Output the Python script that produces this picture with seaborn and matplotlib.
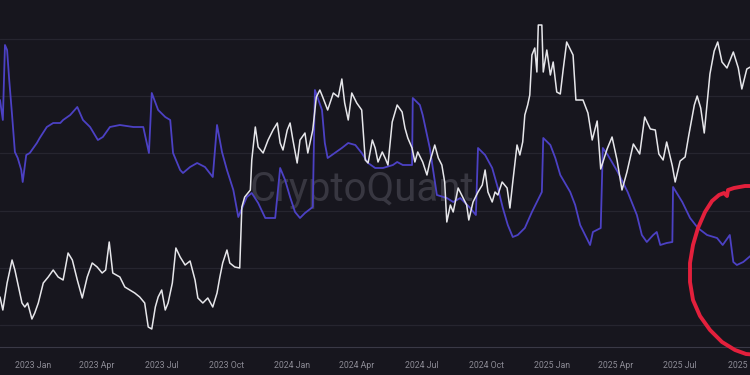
import numpy as np
import pandas as pd
import matplotlib
matplotlib.use("Agg")
import matplotlib.pyplot as plt
import matplotlib.dates as mdates
from matplotlib.lines import Line2D
import seaborn as sns

# ---------------- data ----------------
start_date = "2022-11-15"

white_days = [0, 4, 10, 17, 21, 25, 31, 35, 39, 45, 49, 54, 61, 68, 75, 82, 89, 96, 102, 109,
              116, 123, 130, 137, 144, 149, 154, 159, 169, 176, 183, 190, 197, 204, 209, 214,
              219, 223, 228, 233, 237, 243, 248, 254, 261, 268, 275, 279, 286, 293, 300, 306,
              310, 314, 320, 324, 331, 338, 341, 345, 353, 355, 360, 364, 371, 378, 385, 391,
              395, 399, 405, 409, 413, 419, 423, 430, 434, 441, 446, 451, 455, 462, 470, 477,
              482, 486, 491, 496, 503, 510, 515, 519, 525, 529, 533, 539, 543, 547, 553, 560,
              567, 571, 575, 581, 585, 589, 596, 602, 606, 613, 618, 623, 627, 630, 635, 639,
              646, 653, 658, 661, 667, 674, 680, 684, 688, 694, 698, 702, 708, 715, 719, 723,
              729, 733, 737, 740, 744, 747, 750, 754, 757, 759, 764, 766, 771, 776, 780, 785,
              790, 794, 799, 808, 812, 822, 829, 835, 842, 847, 856, 863, 870, 877, 884, 893,
              902, 909, 917, 924, 929, 935, 940, 948, 952, 959, 966, 971, 979, 983, 988, 993,
              997, 1001, 1007, 1012, 1018, 1025, 1034, 1041, 1046, 1053, 1058]
white_vals = [28, 15, 42, 65, 55, 42, 22, 18, 22, 6, 12, 22, 42, 48, 55, 48, 45, 72, 65, 45,
              27, 48, 62, 58, 52, 55, 83, 52, 48, 38, 35, 32, 28, 22, -2, -4,
              18, 28, 35, 15, 22, 42, 77, 68, 60, 64, 45, 27, 22, 27, 18, 32,
              48, 62, 75, 62, 58, 57, 118, 128, 135, 165, 198, 178, 172, 185, 195, 202,
              182, 175, 195, 202, 185, 162, 185, 192, 172, 195, 228, 235, 228, 215, 232, 228,
              246, 222, 205, 232, 222, 215, 165, 162, 185, 177, 163, 173, 167, 160, 203, 220,
              213, 197, 187, 177, 163, 173, 163, 150, 163, 180, 167, 160, 143, 103, 120, 113,
              137, 127, 120, 105, 123, 133, 140, 155, 133, 123, 133, 130, 143, 137, 117, 143,
              180, 170, 183, 210, 220, 230, 270, 277, 253, 300, 300, 253, 275, 250, 263, 233,
              231, 255, 283, 270, 225, 225, 212, 185, 204, 156, 176, 188, 165, 135, 153, 181,
              171, 208, 196, 195, 171, 165, 183, 159, 143, 164, 168, 189, 220, 229, 217, 192,
              221, 251, 274, 283, 263, 257, 273, 257, 236, 256, 258]

purple_days = [0, 4, 7, 10, 13, 17, 21, 25, 30, 32, 37, 42, 52, 56, 66, 75, 85, 89, 99, 109,
               117, 127, 138, 145, 155, 169, 188, 202, 210, 214, 223, 233, 240, 244, 254, 258,
               268, 278, 289, 300, 306, 313, 320, 329, 336, 348, 355, 364, 374, 388, 395, 402,
               409, 416, 423, 430, 441, 444, 454, 458, 462, 472, 482, 491, 501, 510, 519, 529,
               540, 554, 560, 568, 581, 582, 592, 596, 606, 616, 630, 639, 649, 663, 671, 674,
               684, 694, 702, 709, 716, 723, 730, 740, 750, 757, 764, 766, 776, 783, 790, 804,
               811, 818, 825, 832, 836, 847, 850, 857, 871, 885, 898, 905, 912, 921, 926, 931,
               940, 948, 949, 962, 973, 984, 997, 1011, 1019, 1029, 1034, 1039, 1048, 1058]
purple_vals = [225, 205, 280, 275, 245, 210, 173, 167, 155, 143, 170, 172, 182, 187, 198, 202,
               202, 205, 210, 218, 205, 198, 185, 188, 198, 200, 198, 198, 172, 232, 215, 208,
               205, 172, 155, 152, 158, 162, 158, 148, 200, 173, 155, 135, 108, 128, 132, 122,
               107, 107, 157, 145, 128, 113, 107, 112, 118, 235, 215, 182, 167, 172, 177, 182,
               180, 172, 162, 157, 157, 160, 163, 160, 160, 227, 220, 210, 177, 130, 127, 123,
               127, 117, 110, 177, 170, 157, 137, 117, 100, 88, 90, 97, 113, 123, 133, 187,
               180, 167, 150, 133, 120, 100, 90, 80, 93, 97, 177, 170, 153, 133, 110, 90,
               83, 90, 93, 80, 82, 83, 138, 123, 107, 97, 90, 87, 80, 90, 63, 60, 63, 69]

tick_months = [1, 4, 7, 10]
watermark = "CryptoQuant"

# annotation (hand-drawn red circle), in figure pixels
circle_x = [758, 745, 734, 728, 727, 724, 719, 712, 705, 698, 693, 690, 690, 693, 700, 710,
            722, 735, 746, 758]
circle_y = [186, 186, 188, 190, 196, 193, 195, 201, 212, 228, 245, 263, 282, 300, 316, 330,
            342, 350, 354, 355]

# ---------------- style ----------------
BG = "#17161e"
GRID = "#26252f"
WHITE = "#e6e6ea"
PURPLE = "#4c41c4"

sns.set_style("dark", {"axes.facecolor": BG, "figure.facecolor": BG,
                       "grid.color": GRID, "axes.edgecolor": "#3a3946"})
plt.rcParams["font.family"] = ["Roboto", "DejaVu Sans"]

start = pd.Timestamp(start_date)
wdf = pd.DataFrame({"date": start + pd.to_timedelta(white_days, unit="D"), "value": white_vals})
pdf = pd.DataFrame({"date": start + pd.to_timedelta(purple_days, unit="D"), "value": purple_vals})

fig = plt.figure(figsize=(7.5, 3.75), dpi=100)
fig.patch.set_facecolor(BG)
ax = fig.add_axes([0, 28 / 375, 1, 347 / 375])
ax.set_facecolor(BG)

ax.text(0.482, 0.455, watermark, transform=ax.transAxes, ha="center", va="center",
        fontsize=29, color="#383741", zorder=0.5, family=["Roboto", "DejaVu Sans"])

sns.lineplot(data=pdf, x="date", y="value", ax=ax, color=PURPLE, linewidth=1.3,
             estimator=None, zorder=2)
sns.lineplot(data=wdf, x="date", y="value", ax=ax, color=WHITE, linewidth=1.1,
             estimator=None, zorder=3)

ax.set_xlim(start, start + pd.Timedelta(days=1057.5))
ax.set_ylim(-22, 325)
ax.set_yticks(np.arange(0, 300, 57.2))
ax.yaxis.grid(True, color=GRID, linewidth=0.9)
ax.xaxis.grid(False)
ax.tick_params(axis="y", length=0, labelleft=False)
ax.xaxis.set_major_locator(mdates.MonthLocator(bymonth=tick_months))
ax.xaxis.set_major_formatter(mdates.DateFormatter("%Y %b"))
ax.tick_params(axis="x", direction="out", length=4, width=0.7, color="#3a3946",
               labelsize=6.3, labelcolor="#8b8a94", pad=6)
ax.set_xlabel("")
ax.set_ylabel("")
for s in ["top", "left", "right"]:
    ax.spines[s].set_visible(False)
ax.spines["bottom"].set_color("#3a3946")
ax.spines["bottom"].set_linewidth(0.8)

fx = np.array(circle_x) / 750
fy = 1 - np.array(circle_y) / 375
fig.add_artist(Line2D(fx, fy, transform=fig.transFigure, color="#e3203c", linewidth=2.8,
                      solid_capstyle="round", solid_joinstyle="round", zorder=10))

fig.savefig("out.png", dpi=100, facecolor=BG)
